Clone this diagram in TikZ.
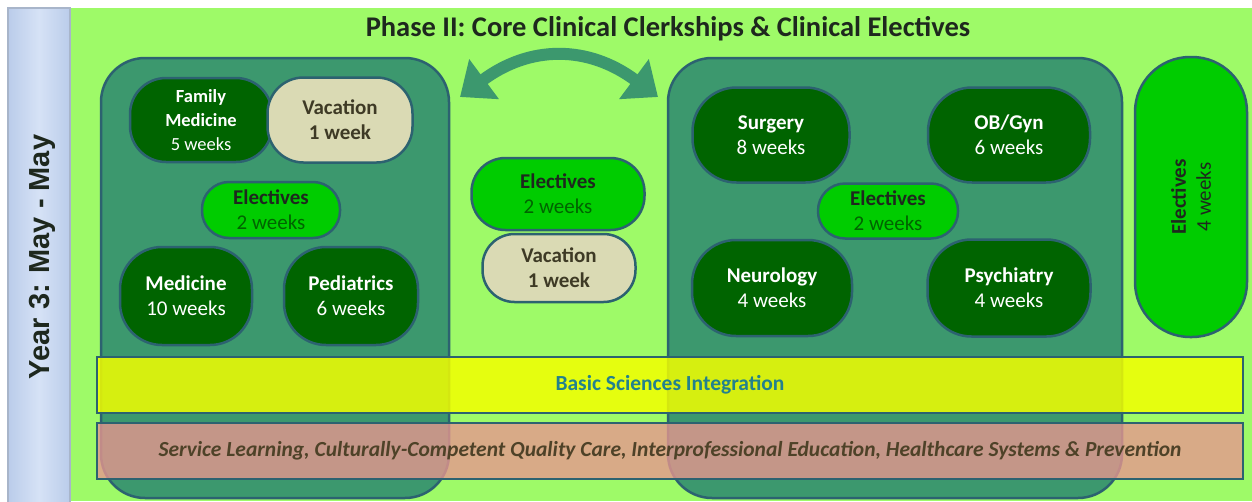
\documentclass[tikz,border=0pt]{standalone}
\usepackage{tikz}
\usepackage{xcolor}
\usepackage{fontspec}
\setmainfont{Carlito}
\newfontfamily\yearfont{Liberation Sans}
\usetikzlibrary{arrows.meta, positioning}

\definecolor{bggreen}{RGB}{158,250,104}
\definecolor{blockgreen}{RGB}{60,152,110}
\definecolor{edgeteal}{RGB}{44,98,112}
\definecolor{darkgreen}{RGB}{0,100,0}
\definecolor{brightgreen}{RGB}{0,204,0}
\definecolor{sand}{RGB}{218,218,180}
\definecolor{stripblue}{RGB}{186,204,234}
\definecolor{stripmid}{RGB}{214,226,246}
\definecolor{barpink}{RGB}{231,150,143}
\definecolor{baryellow}{RGB}{242,255,0}
\definecolor{inktext}{RGB}{30,40,30}

\begin{document}
\begin{tikzpicture}[x=1pt, y=-1pt,
    block/.style={rectangle, rounded corners=44pt, draw=edgeteal, line width=2.5pt, fill=blockgreen, inner sep=0pt},
    clerk/.style={rectangle, rounded corners=36pt, draw=edgeteal, line width=2.5pt, fill=darkgreen, text=white, align=center, inner sep=0pt, font=\bfseries\fontsize{21}{25}\selectfont},
    elect/.style={clerk, rounded corners=27pt, fill=brightgreen, text=inktext},
    vacation/.style={clerk, fill=sand, text=inktext!80!brown},
    bar/.style={rectangle, draw=edgeteal, line width=2.5pt, minimum width=1146pt, minimum height=56pt, inner sep=0pt, fill opacity=0.85, text opacity=1, font=\bfseries\fontsize{21.5}{25}\selectfont}]

\useasboundingbox (0,0) rectangle (1252,501);
\fill[bggreen] (71,8) rectangle (1252,501);
\shade[left color=stripblue, right color=stripblue, middle color=stripmid, draw=stripblue!70!gray, line width=1.5pt] (8,8) rectangle (70,503);

\node[rotate=90, font=\yearfont\bfseries\fontsize{29}{32}\selectfont, text=inktext] (year) at (42,257) {Year 3: May - May};
\node[font=\bfseries\fontsize{28.5}{32}\selectfont, text=inktext] (phase) at (668,29) {Phase II: Core Clinical Clerkships \& Clinical Electives};

\coordinate (swapL) at (460,97);
\coordinate (swapR) at (658,97);
\draw[blockgreen, line width=12pt, {Triangle[length=30pt, width=48pt]}-{Triangle[length=30pt, width=48pt]}]
    (swapL) .. controls (530,45) and (588,45) .. (swapR);

\node[block, minimum width=348pt, minimum height=440pt] (leftblock) at (275,278) {};
\node[block, minimum width=454pt, minimum height=440pt] (rightblock) at (895,278) {};
\node[elect, rounded corners=55pt, minimum width=280pt, minimum height=112pt, rotate=90] (electR) at (1191,197) {Electives\\{\mdseries 4 weeks}};

\node[clerk, minimum width=142pt, minimum height=84pt, font=\bfseries\fontsize{18.5}{24}\selectfont] (family) at (201,120) {Family\\Medicine\\{\mdseries 5 weeks}};
\node[vacation, minimum width=145pt, minimum height=85pt] (vacL) at (340,120) {Vacation\\1 week};
\node[elect, minimum width=138pt, minimum height=56pt] (electL) at (271,210) {Electives\\{\mdseries\color{darkgreen} 2 weeks}};
\node[clerk, rounded corners=42pt, minimum width=132pt, minimum height=98pt] (medicine) at (186,296) {Medicine\\{\mdseries 10 weeks}};
\node[clerk, rounded corners=42pt, minimum width=134pt, minimum height=98pt] (peds) at (351,296) {Pediatrics\\{\mdseries 6 weeks}};

\node[elect, rounded corners=34pt, minimum width=173pt, minimum height=72pt] (electM) at (558,194) {Electives\\{\mdseries\color{darkgreen} 2 weeks}};
\node[vacation, rounded corners=32pt, minimum width=153pt, minimum height=68pt] (vacM) at (559,268) {Vacation\\1 week};

\node[clerk, rounded corners=44pt, minimum width=157pt, minimum height=95pt] (surgery) at (771,135) {Surgery\\{\mdseries 8 weeks}};
\node[clerk, rounded corners=44pt, minimum width=162pt, minimum height=95pt] (obgyn) at (1009,135) {OB/Gyn\\{\mdseries 6 weeks}};
\node[elect, minimum width=140pt, minimum height=55pt] (electC) at (888,211) {Electives\\{\mdseries\color{darkgreen} 2 weeks}};
\node[clerk, rounded corners=44pt, minimum width=160pt, minimum height=96pt] (neuro) at (772,288) {Neurology\\{\mdseries 4 weeks}};
\node[clerk, rounded corners=44pt, minimum width=163pt, minimum height=97pt] (psych) at (1009,288) {Psychiatry\\{\mdseries 4 weeks}};

\node[bar, fill=baryellow, text=edgeteal!80!cyan] (basic) at (670,385) {Basic Sciences Integration};
\node[bar, fill=barpink, fill opacity=0.8, text=inktext!70!brown, font=\bfseries\itshape\fontsize{21.5}{25}\selectfont] (service) at (670,451) {Service Learning, Culturally-Competent Quality Care, Interprofessional Education, Healthcare Systems \& Prevention};

\end{tikzpicture}
\end{document}
